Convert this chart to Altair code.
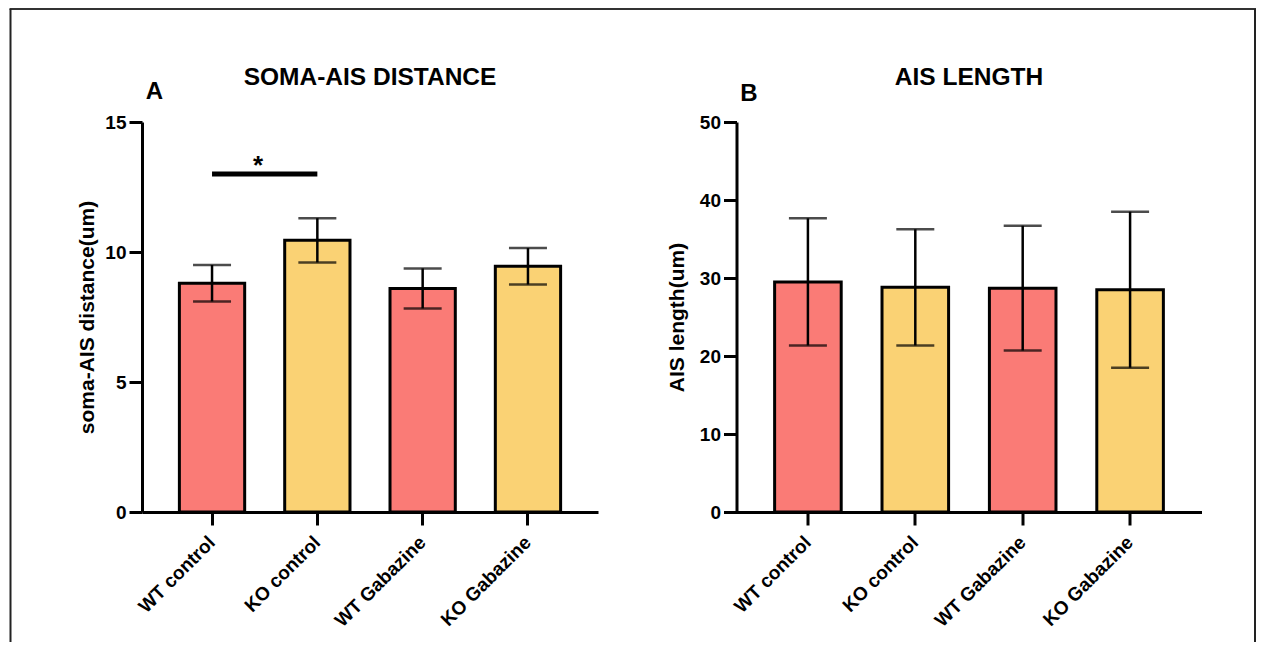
import altair as alt
import pandas as pd

# ---------------- data ----------------
groups = ["WT control", "KO control", "WT Gabazine", "KO Gabazine"]
genotype = ["WT", "KO", "WT", "KO"]

dist_mean = [8.8, 10.45, 8.6, 9.45]
dist_err = [0.7, 0.85, 0.77, 0.7]
dist_ticks = [0, 5, 10, 15]

len_mean = [29.5, 28.8, 28.7, 28.5]
len_err = [8.15, 7.45, 8.0, 10.0]
len_ticks = [0, 10, 20, 30, 40, 50]

sig_pair = ["WT control", "KO control"]
sig_level = [13, 13]
sig_mark = ["*"]

title_a = ["SOMA-AIS DISTANCE"]
title_b = ["AIS LENGTH"]
letter_a = ["A"]
letter_b = ["B"]

RED = "#FA7B76"
YEL = "#FAD274"
FONT = "Liberation Sans"


def panel(means, errs, ymax, ticks, ytitle, title, letter, width, title_pad, letter_y, extra=None):
    df = pd.DataFrame({"group": groups, "geno": genotype, "mean": means, "err": errs})
    df["lo"] = df["mean"] - df["err"]
    df["hi"] = df["mean"] + df["err"]

    xscale = alt.Scale(domain=groups, paddingInner=0.38, paddingOuter=0.355)
    yscale = alt.Scale(domain=[0, ymax], nice=False, zero=True)

    xenc = alt.X(
        "group:N", scale=xscale, sort=groups,
        axis=alt.Axis(title=None, labelAngle=-45, labelAlign="right", labelBaseline="middle",
                      labelPadding=14, labelOverlap=False, labelLimit=0),
    )
    yaxis = alt.Axis(values=ticks, title=ytitle, titlePadding=title_pad, labelFlush=False,
                     labelPadding=3, grid=False)

    base = alt.Chart(df)
    bars = base.mark_bar(stroke="black", strokeWidth=3).encode(
        x=xenc,
        y=alt.Y("mean:Q", scale=yscale, axis=yaxis),
        color=alt.Color("geno:N", scale=alt.Scale(domain=["WT", "KO"], range=[RED, YEL]), legend=None),
    )
    rules = base.mark_rule(color="black", strokeWidth=2.5).encode(
        x=alt.X("group:N", scale=xscale, sort=groups),
        y=alt.Y("lo:Q", scale=yscale),
        y2="hi:Q",
    )
    caps = base.transform_fold(["lo", "hi"], as_=["k", "v"]).mark_tick(
        color="black", size=38, thickness=2.5
    ).encode(
        x=alt.X("group:N", scale=xscale, sort=groups),
        y=alt.Y("v:Q", scale=yscale),
    )

    tdf = pd.DataFrame({"t": title})
    ttl = alt.Chart(tdf).mark_text(
        font=FONT, fontSize=24.5, fontWeight="bold", align="center", baseline="alphabetic", color="black"
    ).encode(text="t:N", x=alt.value(width / 2), y=alt.value(-37))

    ldf = pd.DataFrame({"t": letter})
    let = alt.Chart(ldf).mark_text(
        font=FONT, fontSize=24, fontWeight="bold", align="center", baseline="alphabetic", color="black"
    ).encode(text="t:N", x=alt.value(12.5), y=alt.value(letter_y))

    layers = [bars, rules, caps, ttl, let]
    if extra:
        layers += extra(xscale, yscale)
    return alt.layer(*layers).properties(width=width, height=390)


def sig_layers(xscale, yscale):
    sdf = pd.DataFrame({"group": sig_pair, "y": sig_level})
    line = alt.Chart(sdf).mark_line(color="black", strokeWidth=5, strokeCap="butt").encode(
        x=alt.X("group:N", scale=xscale, sort=groups),
        y=alt.Y("y:Q", scale=yscale),
    )
    stdf = pd.DataFrame({"group": [sig_pair[0]], "y": [sig_level[0]], "t": sig_mark})
    star = alt.Chart(stdf).mark_text(
        font=FONT, fontSize=26, fontWeight="bold", baseline="alphabetic", align="center",
        dx=46, color="black"
    ).encode(
        x=alt.X("group:N", scale=xscale, sort=groups),
        y=alt.Y("y:Q", scale=yscale),
        text="t:N",
    )
    # outer frame of the figure (top, left, right edges)
    bdf = pd.DataFrame({"k": [0]})
    top = alt.Chart(bdf).mark_rule(color="#333333", strokeWidth=2).encode(
        x=alt.value(-132.5), x2=alt.value(1114), y=alt.value(-113))
    left = alt.Chart(bdf).mark_rule(color="#222222", strokeWidth=2).encode(
        x=alt.value(-131.5), y=alt.value(-113), y2=alt.value(520))
    right = alt.Chart(bdf).mark_rule(color="#222222", strokeWidth=2).encode(
        x=alt.value(1113), y=alt.value(-113), y2=alt.value(520))
    return [line, star, top, left, right]


pa = panel(dist_mean, dist_err, 15, dist_ticks, "soma-AIS distance(um)", title_a, letter_a,
           456, 7, -23, extra=sig_layers)
pb = panel(len_mean, len_err, 50, len_ticks, "AIS length(um)", title_b, letter_b,
           465, 12, -21.5)

chart = alt.hconcat(pa, pb, spacing=138.5, bounds="flush").properties(
    padding=0, background="white"
).configure_view(stroke=None).configure_axis(
    labelFont=FONT, labelFontSize=19, labelFontWeight="bold", labelColor="black",
    titleFont=FONT, titleFontSize=21, titleFontWeight="bold", titleColor="black",
    domainColor="black", domainWidth=3, tickColor="black", tickWidth=3, tickSize=13,
)

chart.save("out.html", embed_options={"renderer": "svg", "actions": False})
